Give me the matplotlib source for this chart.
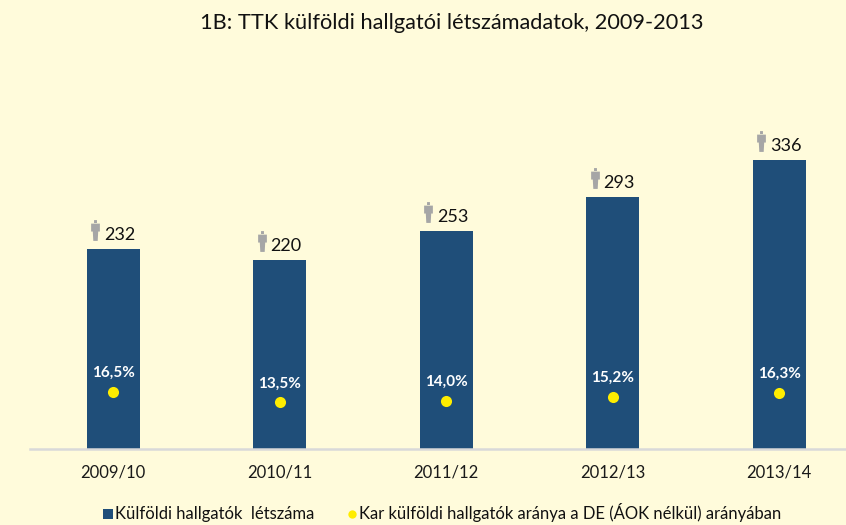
import matplotlib
matplotlib.use("Agg")
import matplotlib.pyplot as plt
from matplotlib.lines import Line2D
from matplotlib.path import Path
from matplotlib.transforms import offset_copy

years = ["2009/10", "2010/11", "2011/12", "2012/13", "2013/14"]
students = [232, 220, 253, 293, 336]
share = [16.5, 13.5, 14.0, 15.2, 16.3]
share_labels = ["16,5%", "13,5%", "14,0%", "15,2%", "16,3%"]

title = "1B: TTK külföldi hallgatói létszámadatok, 2009-2013"
legend_students = "Külföldi hallgatók  létszáma"
legend_share = "Kar külföldi hallgatók aránya a DE (ÁOK nélkül) arányában"

BG = "#FFFBDB"
BAR = "#1F4E79"
DOT = "#FFED00"
ICON = "#A6A6A6"

plt.rcParams["font.family"] = ["Lato", "DejaVu Sans"]


def person_marker():
    # small standing figure, head + body
    verts = [(-1.4, 10), (1.4, 10), (1.4, 7.2), (-1.4, 7.2), (-1.4, 10),
             (-4.2, 6.6), (4.2, 6.6), (4.2, -1), (2.6, -1), (2.1, -10), (-2.1, -10),
             (-2.6, -1), (-4.2, -1), (-4.2, 6.6)]
    codes = [Path.MOVETO, Path.LINETO, Path.LINETO, Path.LINETO, Path.CLOSEPOLY,
             Path.MOVETO, Path.LINETO, Path.LINETO, Path.LINETO, Path.LINETO,
             Path.LINETO, Path.LINETO, Path.LINETO, Path.CLOSEPOLY]
    return Path(verts, codes)


W, H = 846, 525
fig = plt.figure(figsize=(W / 100, H / 100), dpi=100, facecolor=BG)
ax = fig.add_axes([30 / W, (H - 449) / H, (W - 30) / W, 449 / H], facecolor=BG)

x = list(range(len(years)))
ax.bar(x, students, width=53 / 166.4, color=BAR, zorder=2)
ax.set_xlim(-0.5, (846 - 113.5) / 166.4)
ax.set_ylim(0, 449 / 0.861)
ax.set_yticks([])
ax.set_xticks(x, years, fontsize=12, color="#1a1a1a")
ax.tick_params(axis="x", length=0, pad=11)
for s in ["top", "left", "right"]:
    ax.spines[s].set_visible(False)
ax.spines["bottom"].set_color("#D9D9D9")
ax.spines["bottom"].set_linewidth(1.8)

icon_tr = offset_copy(ax.transData, fig=fig, x=-18, y=19, units="dots")
ax.plot(x, students, ls="none", marker=person_marker(), ms=15, color=ICON,
        mew=0, transform=icon_tr, clip_on=False, zorder=3)
for i, v in zip(x, students):
    ax.annotate(str(v), (i, v), xytext=(6.5, 14), textcoords="offset pixels",
                ha="center", va="center", fontsize=13, color="#111111")

ax2 = ax.twinx()
ax2.set_ylim(0, 449 / 3.45)
ax2.set_yticks([])
ax2.patch.set_visible(False)
for s in ax2.spines.values():
    s.set_visible(False)
ax2.plot(x, share, ls="none", marker="o", ms=8, color=DOT, mew=0, zorder=4)
for i, v, lab in zip(x, share, share_labels):
    ax2.annotate(lab, (i, v), xytext=(0, 19), textcoords="offset pixels",
                 ha="center", va="center", fontsize=11, fontweight="bold",
                 color="white")

fig.text(452 / W, 1 - 23 / H, title, ha="center", va="center",
         fontsize=15.7, color="#111111")

handles = [
    Line2D([], [], ls="none", marker="s", ms=6.5, color=BAR, mew=0),
    Line2D([], [], ls="none", marker="o", ms=6, color=DOT, mew=0),
]
fig.legend(handles, [legend_students, legend_share], ncol=2, frameon=False,
           loc="center", bbox_to_anchor=(442 / W, 1 - 513 / H),
           fontsize=12, handlelength=0.65, handletextpad=0.1,
           columnspacing=1.9, labelcolor="#111111", borderpad=0)

fig.savefig("out.png", dpi=100, facecolor=BG)
